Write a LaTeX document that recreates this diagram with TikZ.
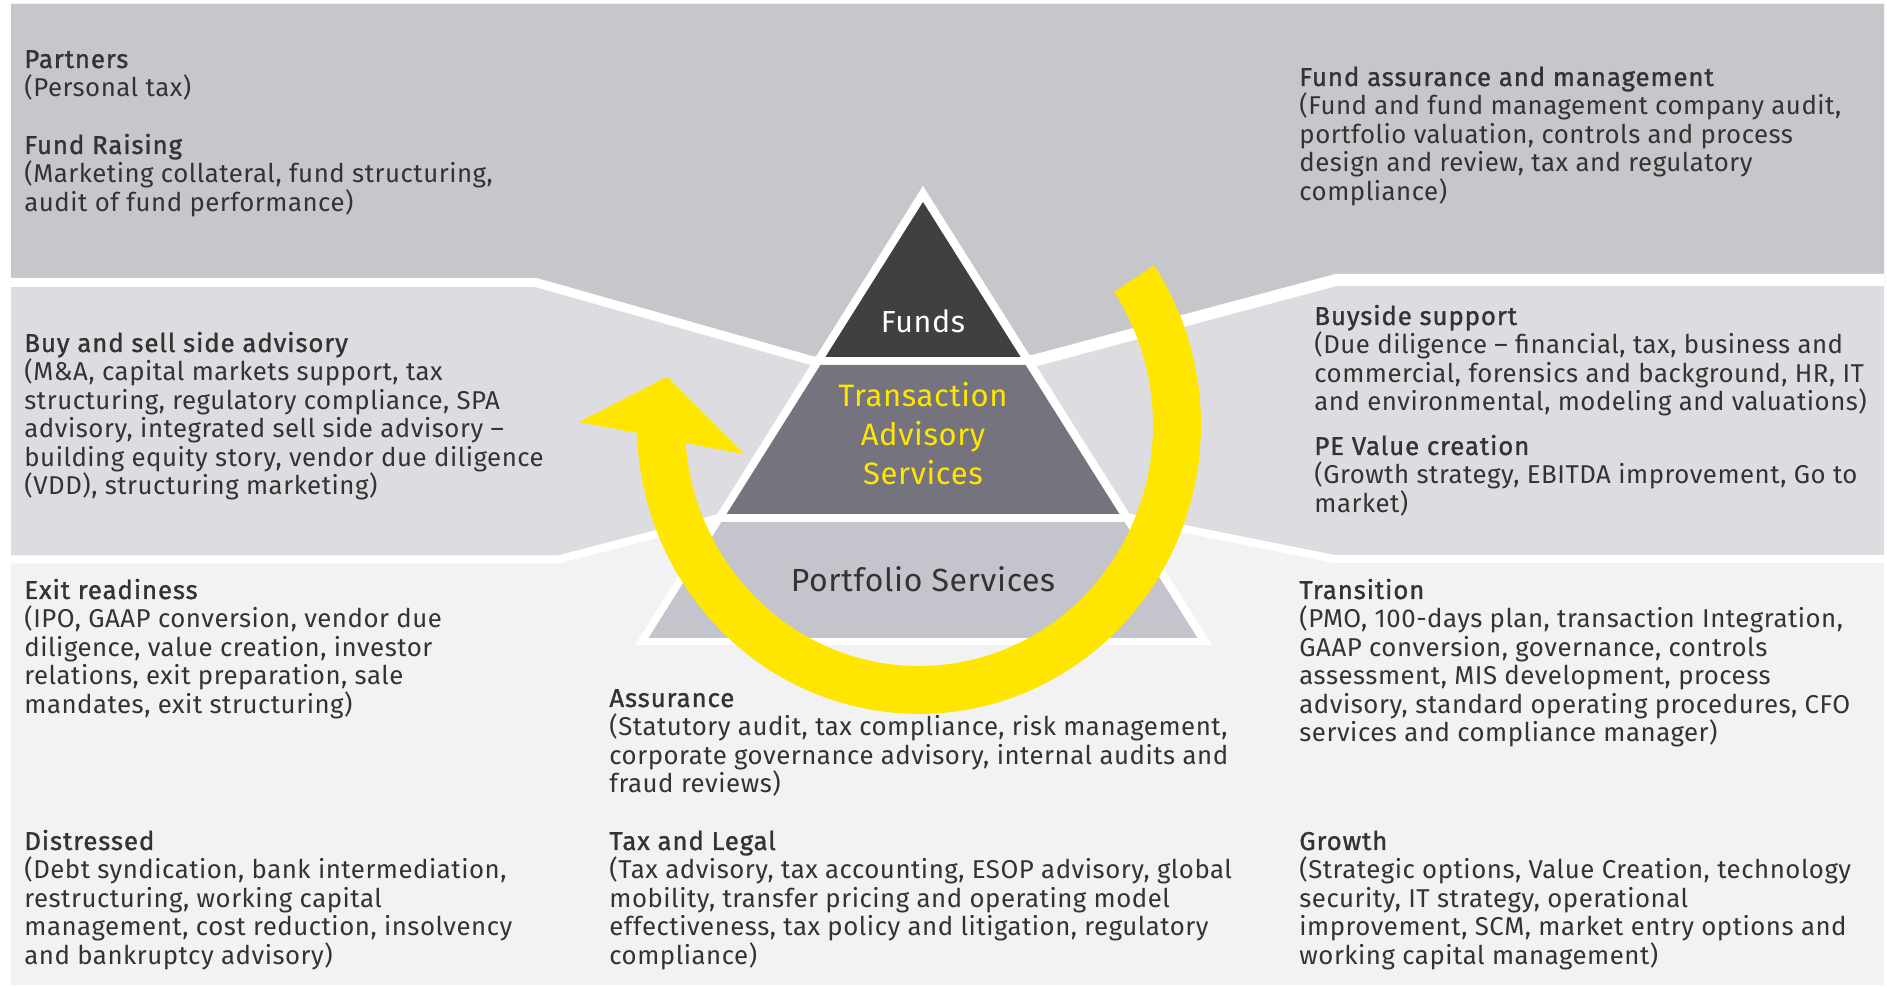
\documentclass[tikz,border=0pt]{standalone}
\usepackage{fontspec}
\setmainfont{Fira Sans}[LetterSpace=2]
\newfontfamily\medfont{Fira Sans}[FakeBold=1.2, LetterSpace=3.5]
\definecolor{topband}{HTML}{C7C7CB}
\definecolor{midband}{HTML}{DDDDE1}
\definecolor{botband}{HTML}{F2F2F4}
\definecolor{fundsc}{HTML}{404040}
\definecolor{tasc}{HTML}{74737E}
\definecolor{portc}{HTML}{C4C4CC}
\definecolor{eyyellow}{HTML}{FFE600}
\definecolor{txtc}{HTML}{333333}
\newcommand{\LN}[1]{\hbox{#1}}
\newcommand{\blk}[2]{\vtop{\hbox{\medfont #1}#2}}
\newcommand{\CL}[1]{\hbox to 0pt{\hss #1\hss}}
\begin{document}
\begin{tikzpicture}[x=0.5pt,y=-0.5pt,
  txt/.style={anchor=base west, inner sep=0pt, text=txtc, font=\fontsize{12.9}{14.3}\selectfont},
  pyr/.style={anchor=base, inner sep=0pt}]
\useasboundingbox (0,0) rectangle (1887,988);
\fill[white] (0,0) rectangle (1887,988);
% bands
\fill[botband] (11,4) rectangle (1884,985);
\fill[midband] (11,4) -- (11,559.5) -- (558,559.5) -- (719,518) -- (1130,518) -- (1334,559) -- (1884,559) -- (1884,4) -- cycle;
\fill[topband] (11,4) -- (11,282.5) -- (536,282.5) -- (813,361) -- (1033,361) -- (1336,280) -- (1884,280) -- (1884,4) -- cycle;
\draw[white, line width=4.5pt] (11,282.5) -- (536,282.5) -- (813,361) -- (923,361);
\draw[white, line width=6pt] (923,361) -- (1033,361) -- (1336,280) -- (1884,280);
\draw[white, line width=4pt] (11,559.5) -- (558,559.5) -- (719,518) -- (1130,518) -- (1334,559) -- (1884,559);
% pyramid
\fill[white] (923,186) -- (635,645) -- (1212,645) -- cycle;
\fill[fundsc] (923,202) -- (825.4,357) -- (1020.6,357) -- cycle;
\fill[tasc] (820.4,365) -- (1025.6,365) -- (1119.4,514) -- (726.6,514) -- cycle;
\fill[portc] (721.5,522) -- (1124.5,522) -- (1197.5,638) -- (648.5,638) -- cycle;
% yellow arrow
\fill[eyyellow] (1154.1,265.4) arc[start angle=-33.5, end angle=178.4, x radius=282, y radius=289]
  -- (579,422) -- (667,377) -- (744,454) -- (685.7,443.1)
  arc[start angle=175.7, end angle=-33.5, x radius=234, y radius=241] -- cycle;
% pyramid labels
\node[pyr, text=white, font=\fontsize{15.2}{18}\selectfont] (funds) at (923,333) {Funds};
\node[pyr, text=eyyellow, font=\fontsize{15.5}{19.5}\selectfont] (tas) at (923,407)
  {\vtop{\CL{Transaction}\CL{Advisory}\CL{Services}}};
\node[pyr, text=txtc, font=\fontsize{16}{19}\selectfont] (portfolio) at (923,592) {Portfolio Services};
% text blocks
\node[txt] (partners) at (24,68) {\blk{Partners}{\LN{(Personal tax)}}};
\node[txt] (fundraising) at (24,154) {\blk{Fund Raising}{\LN{(Marketing collateral, fund structuring,}\LN{audit of fund performance)}}};
\node[txt] (fundassure) at (1299,86) {\blk{Fund assurance and management}{\LN{(Fund and fund management company audit,}\LN{portfolio valuation, controls and process}\LN{design and review, tax and regulatory}\LN{compliance)}}};
\node[txt] (buysell) at (24,352) {\blk{Buy and sell side advisory}{\LN{(M\&A, capital markets support, tax}\LN{structuring, regulatory compliance, SPA}\LN{advisory, integrated sell side advisory –}\LN{building equity story, vendor due diligence}\LN{(VDD), structuring marketing)}}};
\node[txt] (buyside) at (1314,325) {\blk{Buyside support}{\LN{(Due diligence – financial, tax, business and}\LN{commercial, forensics and background, HR, IT}\LN{and environmental, modeling and valuations)}}};
\node[txt] (pevalue) at (1314,455) {\blk{PE Value creation}{\LN{(Growth strategy, EBITDA improvement, Go to}\LN{market)}}};
\node[txt] (exit) at (24,599) {\blk{Exit readiness}{\LN{(IPO, GAAP conversion, vendor due}\LN{diligence, value creation, investor}\LN{relations, exit preparation, sale}\LN{mandates, exit structuring)}}};
\node[txt] (distressed) at (24,850) {\blk{Distressed}{\LN{(Debt syndication, bank intermediation,}\LN{restructuring, working capital}\LN{management, cost reduction, insolvency}\LN{and bankruptcy advisory)}}};
\node[txt] (assurance) at (609,707) {\blk{Assurance}{\LN{(Statutory audit, tax compliance, risk management,}\LN{corporate governance advisory, internal audits and}\LN{fraud reviews)}}};
\node[txt] (taxlegal) at (609,850) {\blk{Tax and Legal}{\LN{(Tax advisory, tax accounting, ESOP advisory, global}\LN{mobility, transfer pricing and operating model}\LN{effectiveness, tax policy and litigation, regulatory}\LN{compliance)}}};
\node[txt] (transition) at (1299,599) {\blk{Transition}{\LN{(PMO, 100-days plan, transaction Integration,}\LN{GAAP conversion, governance, controls}\LN{assessment, MIS development, process}\LN{advisory, standard operating procedures, CFO}\LN{services and compliance manager)}}};
\node[txt] (growth) at (1299,850) {\blk{Growth}{\LN{(Strategic options, Value Creation, technology}\LN{security, IT strategy, operational}\LN{improvement, SCM, market entry options and}\LN{working capital management)}}};
\end{tikzpicture}
\end{document}
